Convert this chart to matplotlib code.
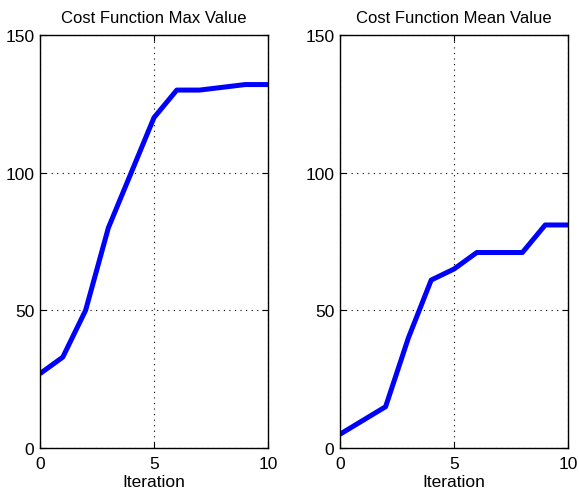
import numpy as np
import matplotlib.pyplot as plt

plt.rcParams['font.family'] = ['Liberation Sans', 'DejaVu Sans']

iteration = [0, 1, 2, 3, 4, 5, 6, 7, 8, 9, 10]
cost_max = [27, 33, 50, 80, 100, 120, 130, 130, 131, 132, 132]
cost_mean = [5, 10, 15, 40, 61, 65, 71, 71, 71, 81, 81]

fig = plt.figure(figsize=(5.79, 4.89), dpi=100)
ax1 = fig.add_axes([40 / 579, 40 / 489, 228 / 579, 413 / 489])
ax2 = fig.add_axes([340 / 579, 40 / 489, 228 / 579, 413 / 489])

for ax, y, title in [(ax1, cost_max, 'Cost Function Max Value'),
                     (ax2, cost_mean, 'Cost Function Mean Value')]:
    ax.plot(iteration, y, color='#0000ff', linewidth=3.6, solid_capstyle='butt')
    ax.set_xlim(0, 10)
    ax.set_ylim(0, 150)
    ax.set_xticks([0, 5, 10])
    ax.set_yticks([0, 50, 100, 150])
    ax.grid(True, color='black', linestyle=(0, (1, 4)), linewidth=0.8)
    ax.tick_params(direction='in', top=True, right=True, length=4,
                   labelsize=12.5, pad=4)
    ax.tick_params(axis='x', pad=6)
    for s in ax.spines.values():
        s.set_linewidth(1.0)
    ax.set_title(title, fontsize=12, pad=9)
    ax.set_xlabel('Iteration', fontsize=12.5, labelpad=2)

fig.savefig('out.png', dpi=100)
